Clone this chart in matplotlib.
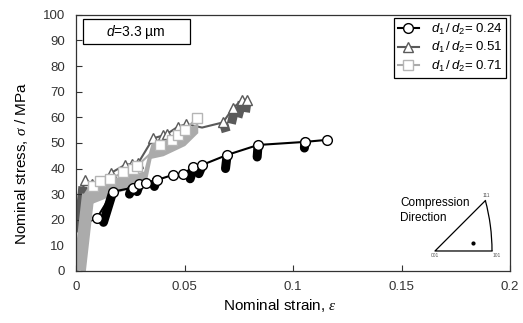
import numpy as np
import matplotlib
matplotlib.use('Agg')
import matplotlib.pyplot as plt
from matplotlib.patches import Rectangle, Arc

plt.rcParams['font.family'] = ['Liberation Sans', 'DejaVu Sans']
plt.rcParams['mathtext.fontset'] = 'custom'
plt.rcParams['mathtext.rm'] = 'Liberation Sans'
plt.rcParams['mathtext.it'] = 'Liberation Sans:italic'
plt.rcParams['mathtext.sf'] = 'Liberation Serif:italic'

# d1/d2 = 0.24 (black, circles)
black_x = [0.001, 0.003, 0.0095, 0.017, 0.026, 0.029, 0.032, 0.037, 0.0445, 0.049,
           0.054, 0.058, 0.0695, 0.0838, 0.1054, 0.1156]
black_y = [0, 18, 20.7, 31, 32.5, 34, 34.5, 35.5, 37.5, 37.8, 40.6, 41.4, 45.3, 49.2,
           50.4, 51.2]
# serration bands below the markers (start strain, start stress, end strain, end stress)
black_band_x0 = [0.0125, 0.0245, 0.028, 0.036, 0.0525, 0.0565, 0.0688, 0.0834, 0.1052]
black_band_y0 = [19, 30, 31, 33, 36, 38, 40, 44.5, 48]
black_band_x1 = [0.0165, 0.0255, 0.029, 0.037, 0.054, 0.058, 0.0695, 0.0838, 0.1054]
black_band_y1 = [30, 32, 33.5, 35.5, 40, 41, 45, 49, 50.4]

# d1/d2 = 0.51 (dark grey, triangles)
dark_x = [0.0008, 0.0025, 0.0039, 0.007, 0.010, 0.0162, 0.0224, 0.0255, 0.0285, 0.0354,
          0.040, 0.0416, 0.047, 0.0508, 0.058, 0.0676, 0.0723, 0.0764, 0.0787]
dark_y = [0, 30, 35.5, 34, 34, 38.4, 41.4, 41.8, 42.1, 51.8, 52.9, 53.4, 56.4, 57.3,
          56, 58, 63.6, 66.8, 66.8]
dark_band_x0 = [0.001, 0.0665, 0.0715, 0.0745, 0.078]
dark_band_y0 = [15, 55.5, 57.5, 60, 62]
dark_band_x1 = [0.003, 0.0705, 0.073, 0.0765, 0.0787]
dark_band_y1 = [33, 56.5, 63, 66, 66]

# d1/d2 = 0.71 (light grey, squares)
light_x = [0.0015, 0.0055, 0.0075, 0.0108, 0.0155, 0.0216, 0.026, 0.028, 0.0385, 0.044,
           0.047, 0.050, 0.0555]
light_y = [0, 30, 33, 35.2, 35.9, 38.5, 40, 41, 49.2, 51, 53, 55, 59.6]
light_fill_x = [0.003, 0.006, 0.012, 0.02, 0.031, 0.0325, 0.0345, 0.04, 0.05, 0.056]
light_fill_lo = [20, 26, 28, 31, 34, 36, 44, 45, 49, 54]
light_fill_hi = [30, 34, 35, 37, 39, 44, 50, 51, 55, 58]

labels = [r'$d_1\,/\,d_2$= 0.24', r'$d_1\,/\,d_2$= 0.51', r'$d_1\,/\,d_2$= 0.71']

c_black = '#000000'
c_dark = '#5a5a5a'
c_light = '#ababab'

fig = plt.figure(figsize=(5.23, 3.23), dpi=100)
ax = fig.add_axes([0.146, 0.161, 0.829, 0.793])

ms = 7
band_lw = 6.5

# black loading part sits under the grey bands
ax.plot(black_x[:3], black_y[:3], color=c_black, lw=1.2, zorder=0.5)

# light grey series
ax.plot([light_x[0], light_x[1]], [light_y[0], light_y[1]], color=c_light, lw=9,
        solid_capstyle='butt', zorder=2)
ax.fill_between(light_fill_x, light_fill_lo, light_fill_hi, color=c_light, lw=0, zorder=2)
ax.plot(light_x, light_y, color=c_light, lw=1.5, marker='s', ms=6.5, mfc='white',
        mec='#b5b5b5', mew=1.0, markevery=list(range(2, len(light_x))), zorder=3,
        label=labels[2])

# dark grey series
for x0, y0, x1, y1 in zip(dark_band_x0, dark_band_y0, dark_band_x1, dark_band_y1):
    ax.plot([x0, x1], [y0, y1], color=c_dark, lw=band_lw, solid_capstyle='butt', zorder=1)
mk_dark = [i for i in range(2, len(dark_x)) if i != 14]
ax.plot(dark_x, dark_y, color=c_dark, lw=1.5, marker='^', ms=7, mfc='white',
        mec=c_dark, mew=1.0, markevery=mk_dark, zorder=1.5, label=labels[1])

# black series
for x0, y0, x1, y1 in zip(black_band_x0, black_band_y0, black_band_x1, black_band_y1):
    ax.plot([x0, x1], [y0, y1], color=c_black, lw=band_lw, solid_capstyle='round', zorder=4)
ax.plot(black_x[2:], black_y[2:], color=c_black, lw=1.5, marker='o', ms=ms, mfc='white',
        mec=c_black, mew=1.0, zorder=5, label=labels[0])

ax.set_xlim(0, 0.2)
ax.set_ylim(0, 100)
ax.set_xticks([0, 0.05, 0.1, 0.15, 0.2])
ax.set_xticklabels(['0', '0.05', '0.1', '0.15', '0.2'])
ax.set_yticks(range(0, 101, 10))
ax.tick_params(direction='in', length=4, width=0.8, labelsize=9.5, colors='#333333')
ax.tick_params(axis='x', pad=7.5)
ax.tick_params(axis='y', pad=8)
for s in ax.spines.values():
    s.set_color('#333333')
    s.set_linewidth(0.9)

ax.set_xlabel(r'Nominal strain, $\mathsf{\varepsilon}$', fontsize=11)
ax.set_ylabel(r'Nominal stress, $\mathsf{\sigma}$ / MPa', fontsize=11)
ax.xaxis.set_label_coords(0.469, -0.1)
ax.yaxis.set_label_coords(-0.108, 0.42)

# legend in the original order
h, l = ax.get_legend_handles_labels()
order = [2, 1, 0]
leg = ax.legend([h[i] for i in order], [l[i] for i in order], loc='upper right',
                bbox_to_anchor=(0.992, 0.988), borderaxespad=0, fancybox=False,
                edgecolor='black', framealpha=1, fontsize=9.5, handlelength=1.6,
                handletextpad=0.9, labelspacing=0.25, borderpad=0.3)
leg.get_frame().set_linewidth(0.9)

# grain size box
ax.add_patch(Rectangle((0.015, 0.887), 0.247, 0.097, transform=ax.transAxes,
                       fill=False, edgecolor='black', lw=0.9, zorder=6))
ax.text(0.137, 0.934, r'$d$=3.3 µm', transform=ax.transAxes, ha='center',
        va='center', fontsize=10)

# compression direction inset (stereographic triangle)
fig.text(400 / 523, 1 - 203 / 323, 'Compression', fontsize=8.5, va='center', ha='left')
fig.text(400 / 523, 1 - 218 / 323, 'Direction', fontsize=8.5, va='center', ha='left')
ins = fig.add_axes([425 / 523, 1 - 262 / 323, 85 / 523, 72 / 323])
ins.set_xlim(-0.0726, 0.545)
ins.set_ylim(-0.08, 0.443)
ins.axis('off')
p111 = (np.sqrt(3) - 1) / 2
p101 = np.sqrt(2) - 1
ins.plot([p101, 0, p111], [0, 0, p111], color='black', lw=0.9)
ins.add_patch(Arc((-1, 0), 2 * np.sqrt(2), 2 * np.sqrt(2), theta1=0, theta2=15,
                  color='black', lw=0.9))
ins.plot([0.276], [0.058], 'o', color='black', ms=2)
ins.text(0.0, -0.035, '001', fontsize=3.5, ha='center', va='center', color='#555555')
ins.text(p101 + 0.035, -0.035, '101', fontsize=3.5, ha='center', va='center', color='#555555')
ins.text(p111 + 0.01, p111 + 0.04, '111', fontsize=3.5, ha='center', va='center', color='#555555')

fig.savefig('out.png', dpi=100)
